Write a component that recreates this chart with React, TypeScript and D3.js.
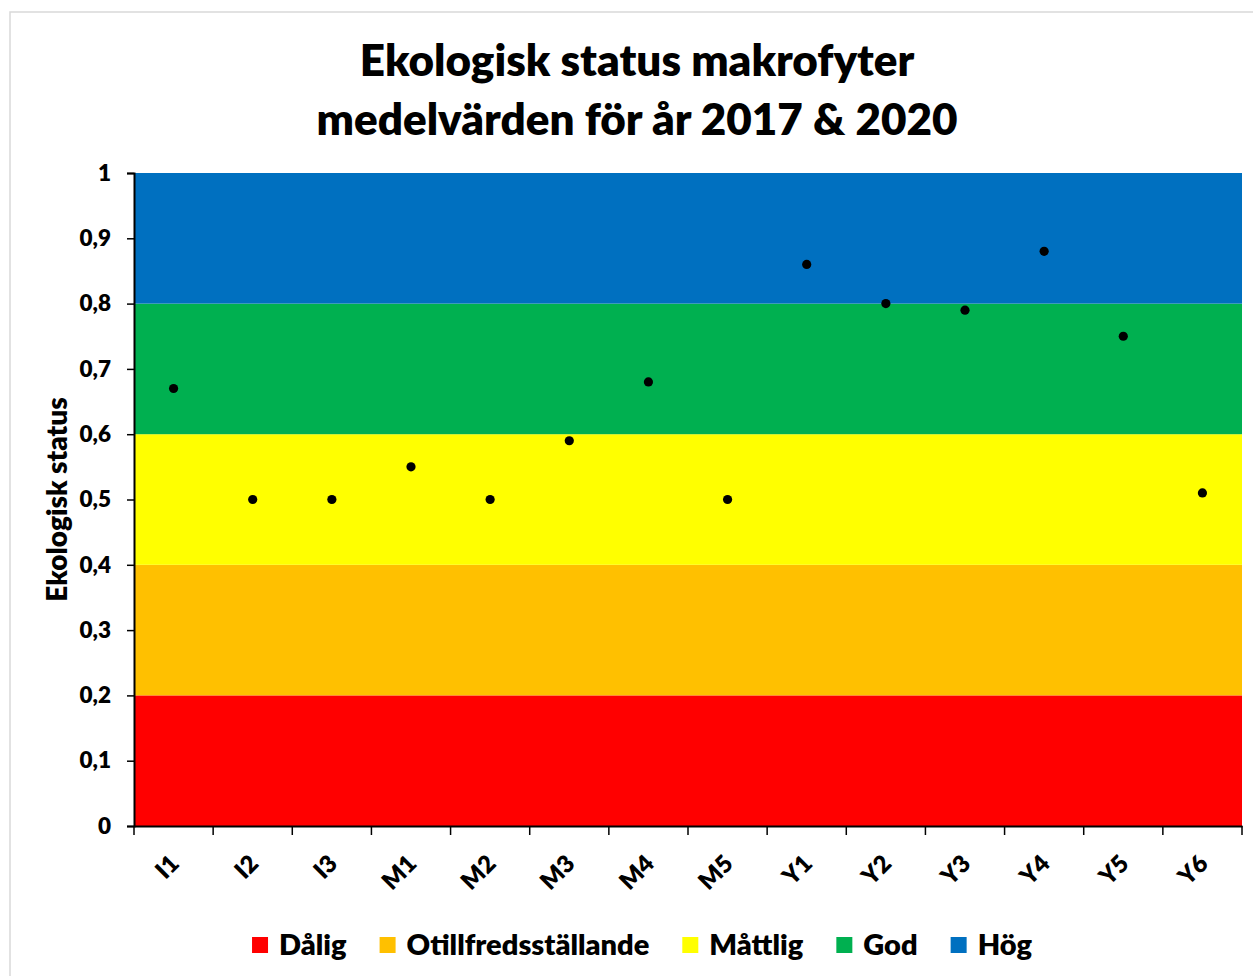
import React, { useEffect, useRef } from "react";
import * as d3 from "d3";

const categories = ["I1", "I2", "I3", "M1", "M2", "M3", "M4", "M5", "Y1", "Y2", "Y3", "Y4", "Y5", "Y6"];
const statusValues = [0.67, 0.5, 0.5, 0.55, 0.5, 0.59, 0.68, 0.5, 0.86, 0.8, 0.79, 0.88, 0.75, 0.51];
const yTicks = [0, 0.1, 0.2, 0.3, 0.4, 0.5, 0.6, 0.7, 0.8, 0.9, 1];
const bandNames = ["Dålig", "Otillfredsställande", "Måttlig", "God", "Hög"];
const bandLows = [0, 0.2, 0.4, 0.6, 0.8];
const bandHighs = [0.2, 0.4, 0.6, 0.8, 1];
const bandColors = ["#FF0000", "#FFC000", "#FFFF00", "#00B050", "#0070C0"];
const titleLines = ["Ekologisk status makrofyter", "medelvärden för år 2017 & 2020"];
const yAxisTitle = "Ekologisk status";

const W = 1253;
const H = 976;
const FONT = "Lato, 'Open Sans', sans-serif";
const WEIGHT = 800;

export default function App() {
  const ref = useRef<SVGSVGElement | null>(null);

  useEffect(() => {
    const svg = d3.select(ref.current);
    svg.selectAll("*").remove();

    const left = 134, right = 1242, top = 173, bottom = 826;
    const x = d3.scaleBand<string>().domain(categories).range([left, right]).padding(0);
    const y = d3.scaleLinear().domain([0, 1]).range([bottom, top]);

    // frame
    svg.append("rect").attr("x", 10).attr("y", 12).attr("width", 1400).attr("height", 1100)
      .attr("fill", "#fff").attr("stroke", "#d9d9d9").attr("stroke-width", 1.5);

    // title
    const title = svg.append("text").attr("text-anchor", "middle").attr("font-family", FONT)
      .attr("font-weight", WEIGHT).attr("font-size", 44).attr("fill", "#000");
    titleLines.forEach((t, i) => {
      title.append("tspan").attr("x", 637).attr("y", 76 + i * 59).text(t);
    });

    // bands
    svg.append("g").selectAll("rect").data(bandLows).join("rect")
      .attr("x", left).attr("width", right - left)
      .attr("y", (d, i) => y(bandHighs[i]))
      .attr("height", (d, i) => y(d) - y(bandHighs[i]))
      .attr("fill", (d, i) => bandColors[i]);

    // y axis
    const yAxis = svg.append("g").attr("transform", `translate(${left},0)`)
      .call(d3.axisLeft(y).tickValues(yTicks).tickSize(7).tickPadding(16)
        .tickFormat((d) => d3.format("")(+d).replace(".", ",")));
    yAxis.select(".domain").attr("stroke", "#000").attr("stroke-width", 2);
    yAxis.selectAll(".tick line").attr("stroke", "#000").attr("stroke-width", 1.5);
    yAxis.selectAll(".tick text").attr("font-family", FONT).attr("font-weight", WEIGHT)
      .attr("font-size", 22.5).attr("fill", "#000");

    // x axis
    const xAxis = svg.append("g").attr("transform", `translate(0,${bottom})`)
      .call(d3.axisBottom(x).tickSize(0).tickFormat(() => ""));
    xAxis.select(".domain").attr("stroke", "#000").attr("stroke-width", 2);
    const bounds = categories.map((c) => x(c) as number).concat([right]);
    svg.append("g").selectAll("line").data(bounds).join("line")
      .attr("x1", (d) => d).attr("x2", (d) => d).attr("y1", bottom).attr("y2", bottom + 9)
      .attr("stroke", "#000").attr("stroke-width", 1.5);
    svg.append("g").selectAll("text").data(categories).join("text")
      .attr("transform", (d) => `translate(${(x(d) as number) + x.bandwidth() / 2 + 1},${bottom + 33}) rotate(-45)`)
      .attr("text-anchor", "end").attr("dy", "0.36em")
      .attr("font-family", FONT).attr("font-weight", WEIGHT).attr("font-size", 24).attr("fill", "#000")
      .text((d) => d);

    // y title
    svg.append("text").attr("transform", `translate(67,${(top + bottom) / 2}) rotate(-90)`)
      .attr("text-anchor", "middle").attr("font-family", FONT).attr("font-weight", WEIGHT)
      .attr("font-size", 28).attr("fill", "#000").text(yAxisTitle);

    // points
    svg.append("g").selectAll("circle").data(statusValues).join("circle")
      .attr("cx", (d, i) => (x(categories[i]) as number) + x.bandwidth() / 2)
      .attr("cy", (d) => y(d)).attr("r", 4.6).attr("fill", "#000");

    // legend
    const lg = svg.append("g");
    const items = lg.selectAll("g").data(bandNames).join("g");
    items.append("rect").attr("width", 16).attr("height", 16).attr("y", -8)
      .attr("fill", (d, i) => bandColors[i]);
    const texts = items.append("text").attr("x", 27).attr("dy", "0.36em")
      .attr("font-family", FONT).attr("font-weight", WEIGHT).attr("font-size", 29).attr("fill", "#000")
      .text((d) => d);
    const widths: number[] = [];
    texts.each(function () { widths.push((this as SVGTextElement).getComputedTextLength()); });
    const gap = 33;
    const itemW = widths.map((w) => 27 + w);
    const total = d3.sum(itemW) + gap * (itemW.length - 1);
    let cur = 642 - total / 2;
    items.attr("transform", (d, i) => {
      const t = `translate(${cur},945)`;
      cur += itemW[i] + gap;
      return t;
    });
  }, []);

  return (
    <svg ref={ref} width={W} height={H} style={{ position: "absolute", left: 0, top: 0, display: "block", background: "#fff" }} />
  );
}
